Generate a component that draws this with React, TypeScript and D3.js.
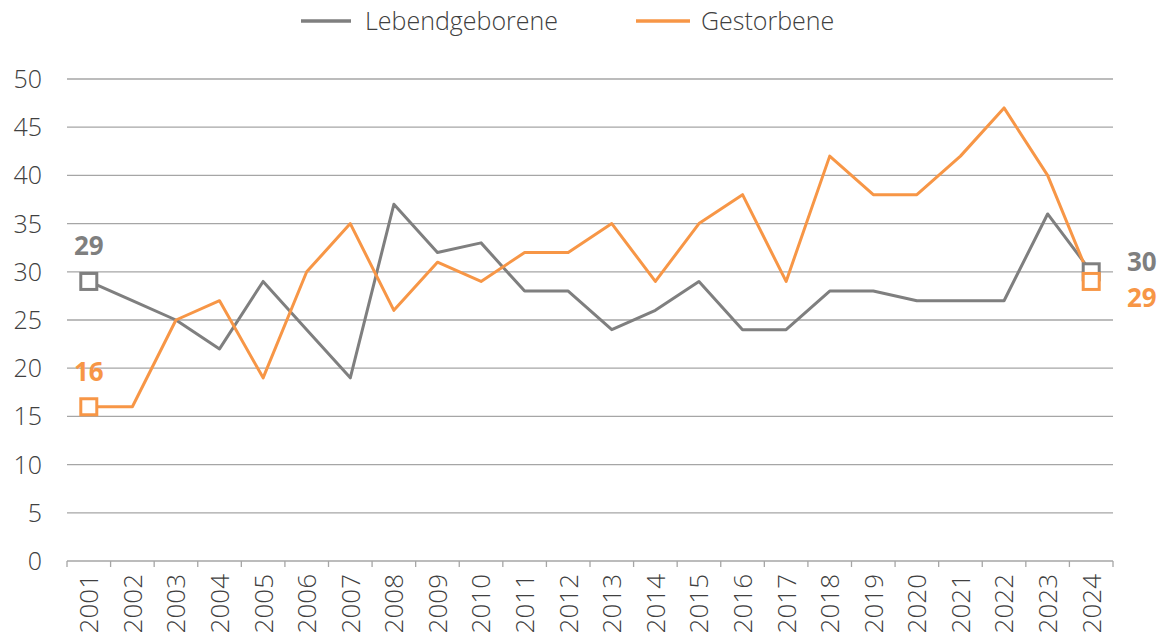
import React from "react";
import * as d3 from "d3";

const years = ["2001","2002","2003","2004","2005","2006","2007","2008","2009","2010","2011","2012","2013","2014","2015","2016","2017","2018","2019","2020","2021","2022","2023","2024"];
const lebendgeborene = [29,27,25,22,29,24,19,37,32,33,28,28,24,26,29,24,24,28,28,27,27,27,36,30];
const gestorbene = [16,16,25,27,19,30,35,26,31,29,32,32,35,29,35,38,29,42,38,38,42,47,40,29];
const yTicks = [0,5,10,15,20,25,30,35,40,45,50];

const GRAY = "#7f7f7f";
const ORANGE = "#f79646";
const TEXT = "#404040";
const FONT = "'Open Sans', sans-serif";

export default function App() {
  const W = 1168, H = 639;
  const left = 67, right = 1113, top = 79, bottom = 561;
  const x = d3.scaleBand<string>().domain(years).range([left, right]);
  const y = d3.scaleLinear().domain([0, 50]).range([bottom, top]);
  const cx = (i: number) => (x(years[i]) as number) + x.bandwidth() / 2;
  const line = d3.line<number>().x((_, i) => cx(i)).y((d) => y(d));
  const last = years.length - 1;
  const sq = 16;
  return (
    <svg width={W} height={H} style={{ position: "absolute", left: 0, top: 0 }} fontFamily={FONT}>
      {yTicks.map((t) => (
        <g key={t}>
          {t > 0 && <line x1={left} x2={right} y1={y(t)} y2={y(t)} stroke="#a6a6a6" strokeWidth={1.3} />}
          <text x={42} y={y(t)} dy="0.36em" textAnchor="end" fontSize={25} fontWeight={300} fill={TEXT}>{t}</text>
        </g>
      ))}
      <line x1={left} x2={right} y1={bottom} y2={bottom} stroke="#a6a6a6" strokeWidth={1.3} />
      {[...years.map((yr) => x(yr) as number), right].map((v, i) => (
        <line key={i} x1={v} x2={v} y1={bottom} y2={bottom + 6} stroke="#a6a6a6" strokeWidth={1.3} />
      ))}
      {years.map((yr, i) => (
        <text key={yr} transform={`translate(${cx(i)},${574}) rotate(-90)`} textAnchor="end" dy="0.36em" fontSize={26} fontWeight={300} fill={TEXT}>{yr}</text>
      ))}
      <path d={line(lebendgeborene) as string} fill="none" stroke={GRAY} strokeWidth={3} strokeLinejoin="round" />
      <path d={line(gestorbene) as string} fill="none" stroke={ORANGE} strokeWidth={3} strokeLinejoin="round" />
      {[[0, lebendgeborene, GRAY], [last, lebendgeborene, GRAY], [0, gestorbene, ORANGE], [last, gestorbene, ORANGE]].map(([i, arr, c], k) => (
        <rect key={k} x={cx(i as number) - sq / 2} y={y((arr as number[])[i as number]) - sq / 2} width={sq} height={sq} fill="white" stroke={c as string} strokeWidth={3} />
      ))}
      <text x={cx(0)} y={y(lebendgeborene[0]) - 26} textAnchor="middle" fontSize={26} fontWeight={700} fill={GRAY}>{lebendgeborene[0]}</text>
      <text x={cx(0)} y={y(gestorbene[0]) - 26} textAnchor="middle" fontSize={26} fontWeight={700} fill={ORANGE}>{gestorbene[0]}</text>
      <text x={1127} y={y(lebendgeborene[last]) - 1} textAnchor="start" fontSize={26} fontWeight={700} fill={GRAY}>{lebendgeborene[last]}</text>
      <text x={1127} y={y(gestorbene[last]) + 26} textAnchor="start" fontSize={26} fontWeight={700} fill={ORANGE}>{gestorbene[last]}</text>
      <line x1={301} x2={351} y1={21} y2={21} stroke={GRAY} strokeWidth={3.5} />
      <text x={365} y={21} dy="0.36em" fontSize={25} fontWeight={300} fill={TEXT}>Lebendgeborene</text>
      <line x1={636} x2={690} y1={21} y2={21} stroke={ORANGE} strokeWidth={3.5} />
      <text x={701} y={21} dy="0.36em" fontSize={25} fontWeight={300} fill={TEXT}>Gestorbene</text>
    </svg>
  );
}
